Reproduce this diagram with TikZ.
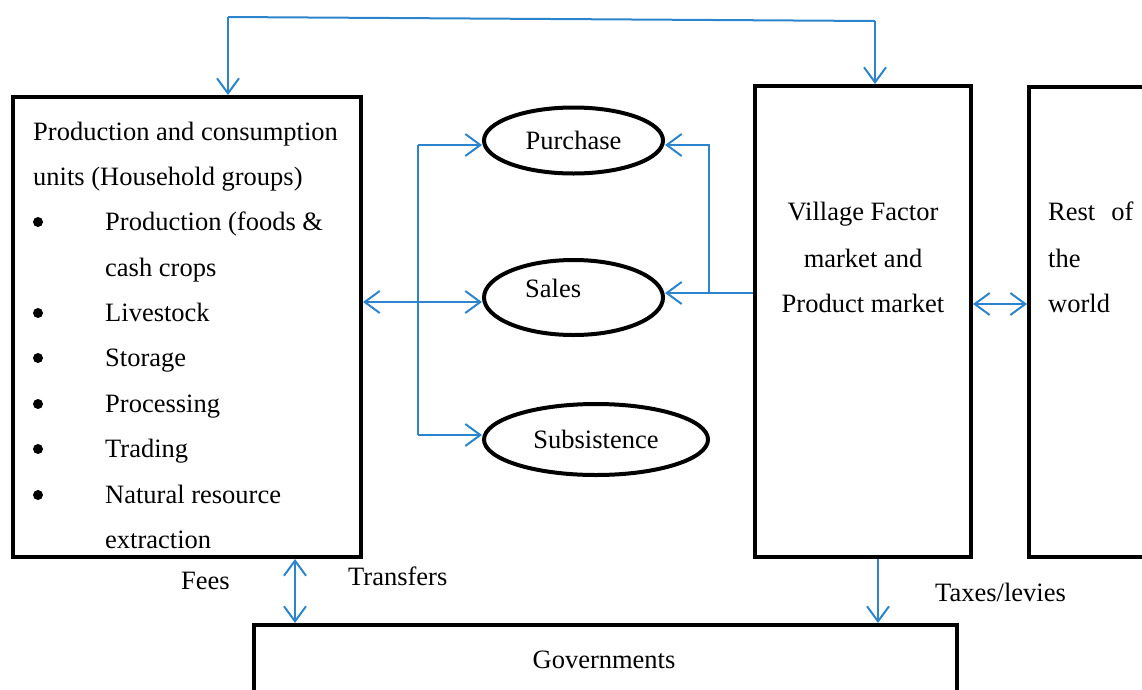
\documentclass[tikz,border=0pt]{standalone}
\usepackage{fontspec}
\setmainfont{Liberation Serif}
\usetikzlibrary{arrows.meta,shapes.geometric}
\definecolor{flowblue}{RGB}{44,132,204}
\tikzset{
  box/.style={draw=black, line width=4pt, rectangle, inner sep=0pt},
  oval/.style={draw=black, line width=4pt, ellipse, inner sep=0pt},
  txt/.style={inner sep=0pt, font=\fontsize{26.5}{30}\selectfont},
  dot/.style={circle, fill=black, minimum size=10pt, inner sep=0pt},
  wire/.style={draw=flowblue, line width=2pt},
  flow/.style={wire, -{Straight Barb[length=15pt,width=22pt]}},
  flowboth/.style={wire, {Straight Barb[length=15pt,width=22pt]}-{Straight Barb[length=15pt,width=22pt]}},
}
\begin{document}
\begin{tikzpicture}[x=1pt,y=-1pt]
\useasboundingbox (0,0) rectangle (1142,689);
\clip (0,0) rectangle (1142,689);

% ---- boxes ----
\node[box, minimum width=348pt, minimum height=460pt] (hh) at (187,327) {};
\node[box, minimum width=216pt, minimum height=471pt] (vf) at (863,321.5) {};
\node[box, minimum width=222pt, minimum height=470pt] (rw) at (1140,322) {};
\node[box, minimum width=703pt, minimum height=135pt] (gv) at (605.5,692.5) {};

% ---- market outlets ----
\node[oval, minimum width=179pt, minimum height=66pt, txt] (pu) at (573.5,140.5) {Purchase};
\node[oval, minimum width=179pt, minimum height=75pt] (sa) at (573.5,297.5) {};
\node[txt, anchor=base west] (satext) at (525,297) {Sales};
\node[oval, minimum width=224pt, minimum height=71pt, txt] (sb) at (596,439.5) {Subsistence};

% ---- household box text ----
\node[txt, anchor=base west] (h1) at (33,140) {Production and consumption};
\node[txt, anchor=base west] (h2) at (33,185) {units (Household groups)};
\node[dot] (b1) at (38,222) {};
\node[txt, anchor=base west] (i1) at (105,230) {Production (foods \&};
\node[txt, anchor=base west] (i1b) at (105,276) {cash crops};
\node[dot] (b2) at (38,313) {};
\node[txt, anchor=base west] (i2) at (105,321) {Livestock};
\node[dot] (b3) at (38,358) {};
\node[txt, anchor=base west] (i3) at (105,366) {Storage};
\node[dot] (b4) at (38,404) {};
\node[txt, anchor=base west] (i4) at (105,412) {Processing};
\node[dot] (b5) at (38,449) {};
\node[txt, anchor=base west] (i5) at (105,457) {Trading};
\node[dot] (b6) at (38,495) {};
\node[txt, anchor=base west] (i6) at (105,503) {Natural resource};
\node[txt, anchor=base west] (i6b) at (105,548) {extraction};

% ---- market box text ----
\node[txt, anchor=base] (v1) at (863,220) {Village Factor};
\node[txt, anchor=base] (v2) at (863,267) {market and};
\node[txt, anchor=base] (v3) at (863,312) {Product market};

% ---- rest of the world text ----
\node[txt, anchor=base west] (r1) at (1048,220) {Rest\hspace{16pt}of};
\node[txt, anchor=base west] (r2) at (1048,267) {the};
\node[txt, anchor=base west] (r3) at (1048,312) {world};

% ---- government ----
\node[txt, anchor=base] (gvtext) at (604,668) {Governments};
\node[txt, anchor=base west] (fees) at (181,589) {Fees};
\node[txt, anchor=base west] (transfers) at (348,585) {Transfers};
\node[txt, anchor=base west] (taxes) at (935,601) {Taxes/levies};

% ---- junction points ----
\coordinate (topL) at (228,17);
\coordinate (topR) at (875,21);
\coordinate (busT) at (418,145);
\coordinate (busM) at (418,302);
\coordinate (busB) at (418,435);
\coordinate (jR) at (709,293);
\coordinate (vr) at (1000,304);
\coordinate (fx) at (295,600);
\coordinate (tx) at (878,600);

% ---- flows ----
\draw[wire] (topL) -- (topR);
\draw[flow] (topL) -- (topL |- hh.north);
\draw[flow] (topR) -- (topR |- vf.north);

\draw[wire] (busT) -- (busB);
\draw[flow] (busT) -- (busT -| pu.west);
\draw[flow] (busB) -- (busB -| sb.west);
\draw[flowboth] (busM -| hh.east) -- (busM -| sa.west);

\draw[flow] (jR -| vf.west) -- (jR -| sa.east);
\draw[flow] (jR) -- (jR |- busT) -- (busT -| pu.east);

\draw[flowboth] (vr -| vf.east) -- (vr -| rw.west);

\draw[flowboth] (fx |- hh.south) -- (fx |- gv.north);
\draw[flow] (tx |- vf.south) -- (tx |- gv.north);
\end{tikzpicture}
\end{document}
